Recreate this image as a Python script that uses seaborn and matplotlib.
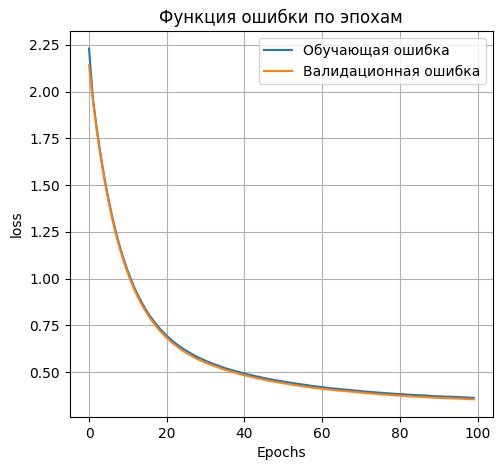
import matplotlib
matplotlib.use("Agg")
import matplotlib.pyplot as plt
import seaborn as sns

# loss values, one per epoch
epochs = list(range(100))

train_loss = [
    2.230, 1.962, 1.802, 1.660, 1.536, 1.426, 1.329, 1.242, 1.166, 1.099,
    1.039, 0.985, 0.937, 0.895, 0.857, 0.822, 0.791, 0.764, 0.738, 0.716,
    0.695, 0.676, 0.659, 0.643, 0.628, 0.615, 0.603, 0.591, 0.580, 0.571,
    0.561, 0.553, 0.544, 0.537, 0.529, 0.522, 0.516, 0.510, 0.504, 0.498,
    0.493, 0.488, 0.483, 0.478, 0.474, 0.469, 0.465, 0.461, 0.457, 0.454,
    0.450, 0.447, 0.443, 0.440, 0.437, 0.434, 0.431, 0.428, 0.425, 0.423,
    0.420, 0.418, 0.415, 0.413, 0.411, 0.409, 0.407, 0.405, 0.403, 0.401,
    0.399, 0.397, 0.395, 0.394, 0.392, 0.390, 0.389, 0.387, 0.386, 0.384,
    0.383, 0.382, 0.380, 0.379, 0.378, 0.377, 0.376, 0.375, 0.373, 0.372,
    0.371, 0.370, 0.369, 0.369, 0.368, 0.367, 0.366, 0.365, 0.364, 0.363,
]

val_loss = [
    2.140, 1.951, 1.791, 1.649, 1.525, 1.415, 1.318, 1.231, 1.155, 1.088,
    1.028, 0.974, 0.926, 0.884, 0.846, 0.811, 0.780, 0.753, 0.727, 0.705,
    0.684, 0.665, 0.648, 0.632, 0.617, 0.604, 0.592, 0.580, 0.569, 0.560,
    0.551, 0.543, 0.535, 0.528, 0.520, 0.513, 0.507, 0.501, 0.495, 0.489,
    0.484, 0.479, 0.474, 0.469, 0.465, 0.460, 0.456, 0.452, 0.448, 0.445,
    0.441, 0.438, 0.434, 0.431, 0.428, 0.425, 0.422, 0.419, 0.416, 0.414,
    0.411, 0.409, 0.407, 0.405, 0.403, 0.401, 0.399, 0.397, 0.395, 0.393,
    0.391, 0.389, 0.387, 0.386, 0.384, 0.382, 0.381, 0.379, 0.378, 0.376,
    0.375, 0.374, 0.372, 0.371, 0.370, 0.369, 0.368, 0.367, 0.365, 0.364,
    0.363, 0.362, 0.361, 0.361, 0.360, 0.359, 0.358, 0.357, 0.356, 0.355,
]

labels = ["Обучающая ошибка", "Валидационная ошибка"]

fig, ax = plt.subplots(figsize=(5.02, 4.7), dpi=100)
fig.subplots_adjust(left=0.139, right=0.982, top=0.934, bottom=0.113)

sns.lineplot(x=epochs, y=train_loss, label=labels[0], color="tab:blue", ax=ax)
sns.lineplot(x=epochs, y=val_loss, label=labels[1], color="tab:orange", ax=ax)

ax.set_title("Функция ошибки по эпохам")
ax.set_xlabel("Epochs")
ax.set_ylabel("loss")
ax.grid(True)
ax.legend(loc="upper right")

plt.savefig("out.png", dpi=100)
